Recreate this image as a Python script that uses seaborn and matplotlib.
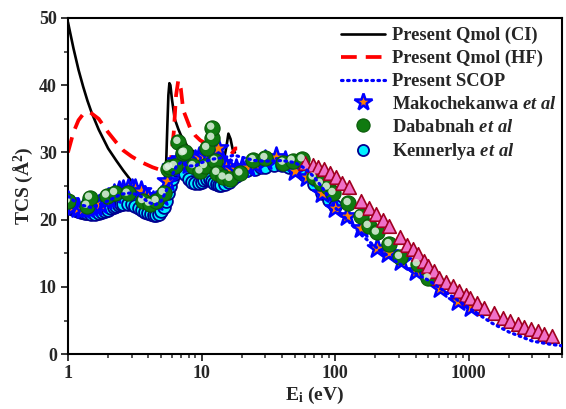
import numpy as np
import pandas as pd
import matplotlib
matplotlib.use("Agg")
import matplotlib.pyplot as plt
import matplotlib.transforms as mtransforms
from matplotlib.ticker import LogLocator, FixedLocator, NullFormatter, MultipleLocator
from matplotlib.lines import Line2D
import seaborn as sns

# ---------------- data ----------------
ci_e = [1.0, 1.1, 1.2, 1.3, 1.4, 1.5, 1.7, 2.0, 2.3, 2.6, 3.0, 3.5, 4.0, 4.5, 5.0, 5.3,
        5.45, 5.55, 5.65, 5.75, 5.85, 6.0, 6.3, 6.7, 7.0, 7.8, 9.0, 10.0, 12.0, 14.0,
        14.8, 15.4, 15.9, 16.5, 17.1, 17.8]
ci_tcs = [49.4, 45.5, 42.3, 39.8, 37.7, 36.0, 33.4, 30.6, 28.8, 27.3, 25.7, 24.6, 24.0, 23.8, 24.3, 25.5,
          29.0, 34.0, 38.5, 40.3, 40.0, 38.0, 35.0, 33.5, 32.6, 31.0, 29.9, 29.5, 29.3, 29.6,
          29.1, 31.0, 32.8, 32.0, 30.5, 30.0]

hf_e = [1.0, 1.1, 1.2, 1.3, 1.46, 1.7, 2.0, 2.3, 2.6, 3.0, 3.6, 4.3, 5.1, 5.6, 5.9, 6.2,
        6.45, 6.7, 7.0, 7.3, 8.2, 9.0, 9.8, 11.6, 13.0, 14.2, 15.0, 15.8, 16.8, 17.9, 18.5]
hf_tcs = [30.0, 33.0, 34.8, 35.7, 36.0, 35.0, 33.0, 31.5, 30.3, 29.4, 28.5, 27.8, 27.3, 27.5, 28.8, 33.0,
          38.5, 40.7, 39.5, 36.3, 33.7, 32.5, 31.8, 31.0, 30.0, 29.2, 28.8, 29.0, 29.8, 30.6, 30.6]

scop_e = [1.0, 1.2, 1.5, 2.0, 2.5, 3.0, 3.5, 4.0, 4.5, 5.0, 5.5, 6.0, 6.5, 7.0, 8.0, 9.0,
          10.0, 12.0, 14.0, 16.0, 17.5, 20.0, 25.0, 30.0, 40.0, 50.0, 60.0, 70.0, 80.0, 90.0,
          100.0, 130.0, 160.0, 200.0, 250.0, 300.0, 400.0, 500.0, 700.0, 1000.0, 1500.0,
          2000.0, 3000.0, 4000.0, 5000.0]
scop_tcs = [23.5, 22.3, 21.8, 22.8, 23.8, 24.0, 23.5, 22.6, 22.2, 22.8, 24.5, 26.5, 28.0, 28.5, 28.0, 28.0,
            28.5, 29.0, 29.2, 29.4, 29.6, 29.3, 28.8, 28.7, 28.8, 28.5, 27.6, 26.3, 24.8, 23.3,
            21.8, 19.5, 17.6, 16.0, 14.6, 13.5, 12.0, 11.0, 9.0, 6.9, 4.6,
            3.3, 1.95, 1.5, 1.25]

mako_e = [1.0, 1.1, 1.2, 1.3, 1.4, 1.5, 1.6, 1.75, 1.9, 2.0, 2.2, 2.4, 2.6, 2.8, 3.0, 3.2,
          3.5, 3.8, 4.0, 4.3, 4.6, 5.0, 5.5, 6.0, 6.5, 7.0, 7.5, 8.0, 8.5, 9.0, 9.5, 10.5,
          11.2, 12.0, 13.3, 14.3, 15.3, 16.4, 18.0, 20.0, 22.4, 25.0, 30.0, 36.0, 42.0,
          50.0, 62.0, 80.0, 100.0, 123.0, 155.0, 207.0, 250.0, 310.0, 400.0, 610.0, 830.0, 1040.0]
mako_tcs = [22.8, 22.0, 21.7, 21.6, 21.7, 21.9, 22.1, 22.4, 22.9, 23.3, 23.8, 24.2, 24.4, 24.5, 24.6, 24.6,
            24.2, 23.6, 23.2, 22.8, 22.8, 23.5, 25.8, 27.8, 28.8, 29.0, 28.5, 28.3, 28.5, 28.9, 29.3, 29.5,
            29.6, 30.0, 30.6, 28.4, 27.8, 27.6, 27.6, 27.7, 27.8, 28.3, 28.9, 29.3, 28.8,
            27.3, 26.3, 23.9, 21.8, 20.5, 18.7, 15.8, 15.0, 13.8, 12.4, 9.9, 7.9, 7.0]

dab_e = [1.0, 1.39, 1.46, 1.96, 2.25, 2.8, 3.65, 4.1, 4.6, 5.2, 5.6, 5.8, 6.3, 6.7, 7.3, 7.5,
         8.7, 9.8, 10.6, 11.0, 12.0, 12.0, 12.7, 13.1, 14.6, 16.4, 19.5, 24.5, 30.0, 41.0,
         48.0, 57.0, 69.0, 78.0, 88.0, 97.0, 126.0, 155.0, 178.0, 205.0, 255.0, 305.0, 415.0, 500.0]
dab_tcs = [22.8, 22.1, 23.3, 23.6, 24.0, 23.9, 22.8, 22.4, 22.8, 24.0, 27.6, 27.8, 28.0, 31.6, 29.9, 30.0,
           28.0, 27.2, 28.0, 30.7, 32.2, 33.7, 28.8, 27.0, 26.3, 26.1, 26.9, 28.9, 29.2, 28.5,
           28.8, 29.0, 26.3, 25.4, 24.8, 24.0, 22.5, 20.6, 19.1, 18.1, 16.4, 14.5, 13.4, 11.3]

ken_e = [1.0, 1.05, 1.1, 1.15, 1.2, 1.25, 1.3, 1.35, 1.4, 1.5, 1.6, 1.7, 1.8, 1.9, 2.0, 2.1,
         2.2, 2.3, 2.4, 2.5, 2.6, 2.8, 3.0, 3.2, 3.4, 3.6, 3.8, 4.0, 4.2, 4.4, 4.6, 4.8,
         5.0, 5.2, 5.4, 5.6, 5.8, 6.0, 6.2, 6.5, 6.8, 7.0, 7.5, 8.0, 8.5, 9.0, 9.5, 10.0,
         10.5, 11.0, 11.5, 12.0, 12.5, 13.0, 13.5, 14.0, 15.0, 16.0, 17.0, 18.0, 19.0, 20.0,
         22.0, 25.0, 28.0, 30.0, 35.0, 40.0, 45.0, 50.0, 60.0, 70.0, 80.0, 90.0, 100.0]
ken_tcs = [22.0, 21.8, 21.6, 21.4, 21.3, 21.2, 21.1, 21.0, 21.0, 20.9, 20.9, 21.0, 21.1, 21.3, 21.5, 21.7,
           21.9, 22.1, 22.2, 22.3, 22.4, 22.4, 22.3, 22.1, 21.8, 21.5, 21.2, 21.0, 20.8, 20.7, 20.7, 20.9,
           21.3, 21.9, 22.8, 23.9, 25.0, 26.0, 26.8, 27.4, 27.6, 27.4, 26.8, 26.0, 25.6, 25.4, 25.4, 25.6,
           25.9, 26.1, 26.1, 25.8, 25.5, 25.3, 25.2, 25.2, 25.3, 25.6, 26.0, 26.5, 26.9, 27.2,
           27.4, 27.6, 27.8, 27.9, 28.1, 28.1, 27.9, 27.5, 26.6, 25.3, 24.0, 23.0, 22.0]

tri_e = [60.0, 68.0, 75.0, 82.0, 92.0, 102.0, 113.0, 128.0, 155.0, 178.0, 204.0, 230.0, 255.0,
         305.0, 345.0, 380.0, 415.0, 460.0, 500.0, 550.0, 600.0, 680.0, 760.0, 840.0, 950.0,
         1030.0, 1150.0, 1300.0, 1540.0, 1800.0, 2050.0, 2330.0, 2600.0, 2950.0, 3300.0, 3650.0, 4200.0]
tri_tcs = [28.5, 28.2, 27.9, 27.6, 26.9, 26.3, 25.5, 24.8, 22.8, 21.8, 20.9, 19.9, 19.0,
           17.4, 16.3, 15.7, 14.9, 13.9, 13.1, 12.4, 11.3, 10.7, 10.1, 9.4, 8.8,
           8.4, 7.6, 6.9, 6.1, 5.4, 4.9, 4.5, 4.0, 3.7, 3.4, 3.0, 2.7]

# ---------------- style ----------------
sns.set_theme(style="white")
plt.rcParams['font.family'] = ['Liberation Serif', 'DejaVu Serif']
plt.rcParams['font.weight'] = 'bold'
plt.rcParams['mathtext.fontset'] = 'custom'
plt.rcParams['mathtext.rm'] = 'Liberation Serif:bold'
plt.rcParams['mathtext.it'] = 'Liberation Serif:bold:italic'
plt.rcParams['mathtext.bf'] = 'Liberation Serif:bold'

fig = plt.figure(figsize=(5.66, 4.09), dpi=100)
ax = fig.add_axes([0.120, 0.134, 0.873, 0.822])

CI_LW = 1.9
HF_LW = 2.7
HF_LS = (0, (4.2, 2.4))
SC_LW = 2.3
SC_LS = (0, (0.5, 1.4))

# lines (below markers)
sns.lineplot(x=ci_e, y=ci_tcs, ax=ax, color='black', lw=CI_LW, label='_ci', zorder=2)
sns.lineplot(x=hf_e, y=hf_tcs, ax=ax, color='#ff0000', lw=HF_LW, label='_hf', zorder=2,
             linestyle=HF_LS)

# Kennerly
sns.scatterplot(x=ken_e, y=ken_tcs, ax=ax, marker='o', s=85, color='#00f0ff', edgecolor='#000090',
                linewidth=1.3, zorder=3, label='_ken')
# Makochekanwa stars
sns.scatterplot(x=mako_e, y=mako_tcs, ax=ax, marker='*', s=210, color='#ff8000', edgecolor='#0000ff',
                linewidth=1.8, zorder=4, label='_mako')
# Dababnah spheres
sns.scatterplot(x=dab_e, y=dab_tcs, ax=ax, marker='o', s=120, color='#107a10', edgecolor='#0a5a0a',
                linewidth=0.8, zorder=5, label='_dab')
off = mtransforms.offset_copy(ax.transData, fig=fig, x=-1.0, y=1.0, units='points')
ax.scatter(dab_e, dab_tcs, marker='o', s=28, color='#e0f2e0', edgecolor='none', alpha=0.85,
           zorder=5.1, transform=off)
# triangles
sns.scatterplot(x=tri_e, y=tri_tcs, ax=ax, marker='^', s=95, color='#f070c8', edgecolor='#a00020',
                linewidth=1.2, zorder=5, label='_tri')
# SCOP dotted on top
sns.lineplot(x=scop_e, y=scop_tcs, ax=ax, color='#0000ff', lw=SC_LW, label='_scop', zorder=6,
             linestyle=SC_LS, dash_capstyle='round')

ax.set_xscale('log')
ax.set_xlim(1, 5000)
ax.set_ylim(0, 50)
ax.xaxis.set_major_locator(FixedLocator([1, 10, 100, 1000]))
ax.set_xticklabels(['1', '10', '100', '1000'])
ax.xaxis.set_minor_locator(LogLocator(base=10, subs=np.arange(2, 10)))
ax.xaxis.set_minor_formatter(NullFormatter())
ax.yaxis.set_major_locator(MultipleLocator(10))
ax.yaxis.set_minor_locator(MultipleLocator(5))

ax.tick_params(which='major', direction='out', length=5, width=1.3, labelsize=13,
               bottom=True, left=True, top=False, right=False, pad=3)
ax.tick_params(which='minor', direction='out', length=3, width=1.1,
               bottom=True, left=True, top=False, right=False)
for lab in ax.get_xticklabels() + ax.get_yticklabels():
    lab.set_fontweight('bold')
for sp in ax.spines.values():
    sp.set_linewidth(1.5)
    sp.set_color('black')

ax.set_xlabel(r'E$_\mathrm{i}$ (eV)', fontsize=14, fontweight='bold', labelpad=2)
ax.set_ylabel(r'TCS ($\mathrm{\AA}^2$)', fontsize=14, fontweight='bold', labelpad=3)

# legend
handles = [
    Line2D([], [], color='black', lw=CI_LW),
    Line2D([], [], color='#ff0000', lw=HF_LW, linestyle=HF_LS),
    Line2D([], [], color='#0000ff', lw=SC_LW, linestyle=SC_LS, dash_capstyle='round'),
    Line2D([], [], marker='*', color='none', markerfacecolor='#ff8000', markeredgecolor='#0000ff',
           markersize=13, markeredgewidth=1.8),
    Line2D([], [], marker='o', color='none', markerfacecolor='#107a10', markeredgecolor='#0a5a0a',
           markersize=9.5, markeredgewidth=0.8),
    Line2D([], [], marker='o', color='none', markerfacecolor='#00f0ff', markeredgecolor='#000090',
           markersize=8, markeredgewidth=1.3),
]
labels = ['Present Qmol (CI)', 'Present Qmol (HF)', 'Present SCOP',
          r'Makochekanwa $\mathit{et\ al}$', r'Dababnah $\mathit{et\ al}$', r'Kennerlya $\mathit{et\ al}$']
leg = ax.legend(handles, labels, loc='upper right', frameon=False, fontsize=13.3,
                handlelength=2.35, labelspacing=0.31, handletextpad=0.42,
                bbox_to_anchor=(1.012, 1.006), borderaxespad=0.2)
for t in leg.get_texts():
    t.set_fontweight('bold')

fig.savefig('out.png', dpi=100)
